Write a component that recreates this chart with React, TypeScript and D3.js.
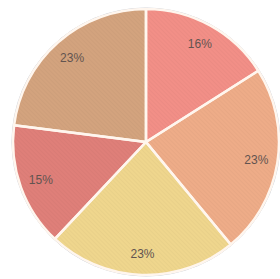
import React, { useRef, useEffect } from "react";
import * as d3 from "d3";

const labels = ["16%", "23%", "23%", "15%", "23%"];
const values = [16, 23, 23, 15, 23];
const colors = ["#f28f87", "#eeac88", "#efd68d", "#df7f79", "#d3a37e"];

const App = () => {
  const ref = useRef<SVGSVGElement>(null);
  const w = 280,
    h = 279;
  const cx = 146,
    cy = 142,
    r = 133;

  useEffect(() => {
    const svg = d3.select(ref.current);
    svg.selectAll("*").remove();

    // faint diagonal hatch, like the scanned texture
    const defs = svg.append("defs");
    const pat = defs
      .append("pattern")
      .attr("id", "tex")
      .attr("width", 3)
      .attr("height", 3)
      .attr("patternUnits", "userSpaceOnUse")
      .attr("patternTransform", "rotate(-45)");
    pat
      .append("line")
      .attr("x1", 0)
      .attr("y1", 0)
      .attr("x2", 0)
      .attr("y2", 3)
      .attr("stroke", "#000")
      .attr("stroke-opacity", 0.05)
      .attr("stroke-width", 1);

    const pie = d3
      .pie<number>()
      .sort(null)
      .value((d) => d);
    const arcs = pie(values);
    const arc = d3.arc<d3.PieArcDatum<number>>().innerRadius(0).outerRadius(r);
    const labelArc = d3
      .arc<d3.PieArcDatum<number>>()
      .innerRadius(r * 0.84)
      .outerRadius(r * 0.84);

    const g = svg.append("g").attr("transform", `translate(${cx},${cy})`);

    g.append("circle")
      .attr("r", r + 1)
      .attr("fill", "none")
      .attr("stroke", "#8a96a8")
      .attr("stroke-opacity", 0.5)
      .attr("stroke-width", 1);

    g.selectAll("path.slice")
      .data(arcs)
      .join("path")
      .attr("class", "slice")
      .attr("d", arc)
      .attr("fill", (d, i) => colors[i]);

    g.selectAll("path.tex")
      .data(arcs)
      .join("path")
      .attr("class", "tex")
      .attr("d", arc)
      .attr("fill", "url(#tex)")
      .attr("stroke", "#fff6ee")
      .attr("stroke-width", 2.5)
      .attr("stroke-linejoin", "round");

    g.selectAll("text")
      .data(arcs)
      .join("text")
      .attr("transform", (d) => `translate(${labelArc.centroid(d)})`)
      .attr("text-anchor", "middle")
      .attr("dy", "0.35em")
      .attr("font-family", "Liberation Sans, Arial, sans-serif")
      .attr("font-size", 12)
      .attr("fill", "#625450")
      .text((d, i) => labels[i]);
  }, []);

  return (
    <svg
      ref={ref}
      width={w}
      height={h}
      style={{ position: "absolute", left: 0, top: 0, background: "#fff" }}
    ></svg>
  );
};

export default App;
